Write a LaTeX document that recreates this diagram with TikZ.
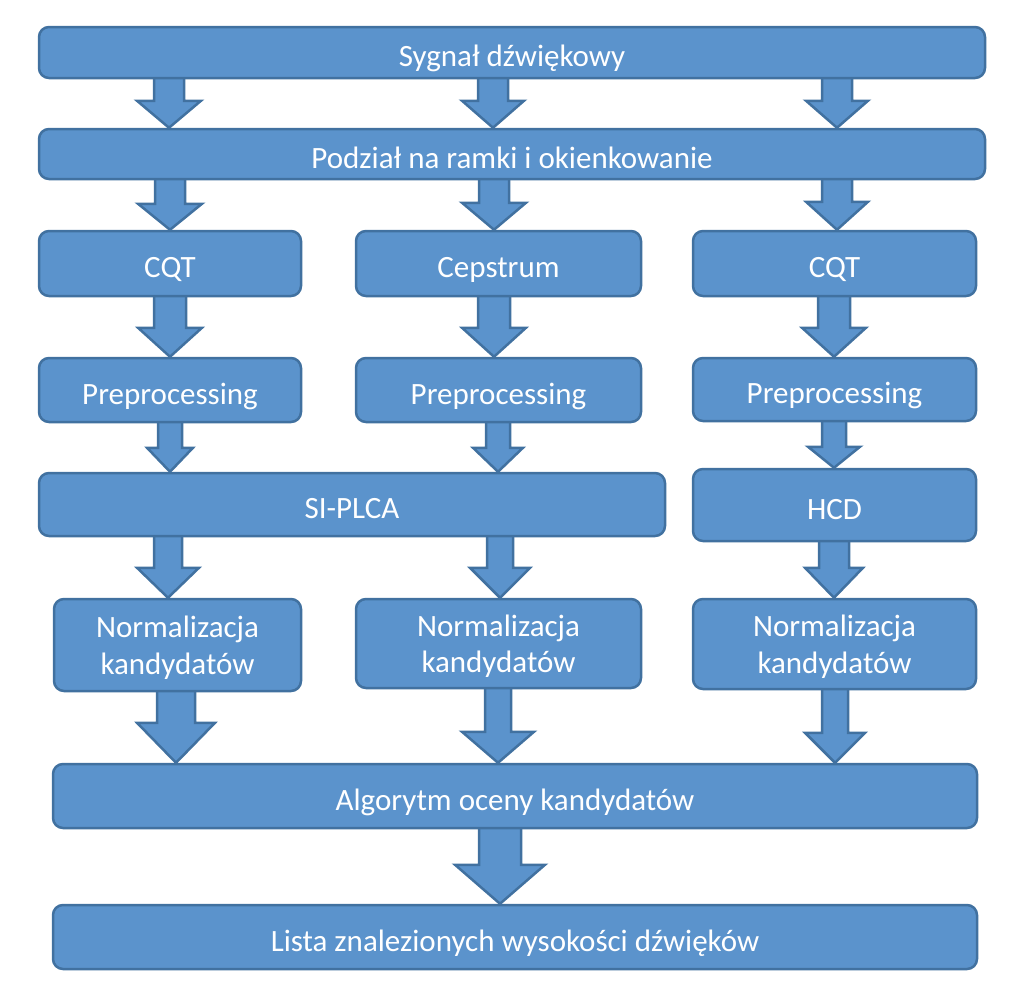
\documentclass[tikz,border=0pt]{standalone}
\usepackage{fontspec}
\setmainfont{Carlito}
\usetikzlibrary{calc,backgrounds}
\definecolor{boxfill}{RGB}{91,147,204}
\definecolor{boxline}{RGB}{65,113,160}
\tikzset{
  box/.style={draw=boxline, fill=boxfill, line width=2.5pt, rounded corners=10pt,
    text=white, font=\fontsize{31}{36.5}\selectfont, align=center, inner sep=0pt,
    text height=28pt, text depth=0pt},
  twoline/.style={text height=58pt, text depth=0pt},
  blockarrow/.style={draw=boxline, fill=boxfill, line width=2.5pt, line join=miter},
}
% #1 x, #2 from node, #3 to node, #4 shaft half width, #5 head half width, #6 head length
\newcommand\barrow[6]{%
  \draw[blockarrow] let \p1=(#2.south), \p2=(#3.north) in
    ({#1pt-#4pt},{\y1+4pt}) -- ({#1pt-#4pt},{\y2+#6pt}) -- ({#1pt-#5pt},{\y2+#6pt})
    -- ({#1pt},{\y2}) -- ({#1pt+#5pt},{\y2+#6pt}) -- ({#1pt+#4pt},{\y2+#6pt})
    -- ({#1pt+#4pt},{\y1+4pt});
}
\begin{document}
\begin{tikzpicture}[x=1pt,y=-1pt]
\useasboundingbox (0,0) rectangle (1024,1001);

\node[box, minimum width=946pt, minimum height=51pt] (b1) at (512,52.5) {Sygnał dźwiękowy};
\node[box, minimum width=946pt, minimum height=50pt] (b2) at (512,154) {Podział na ramki i okienkowanie};

\node[box, minimum width=262pt, minimum height=65pt] (c1) at (170,263.5) {CQT};
\node[box, minimum width=285pt, minimum height=65pt] (c2) at (498.5,263.5) {Cepstrum};
\node[box, minimum width=283pt, minimum height=65pt] (c3) at (834.5,263.5) {CQT};

\node[box, minimum width=262pt, minimum height=64pt] (p1) at (170,390) {Preprocessing};
\node[box, minimum width=285pt, minimum height=64pt] (p2) at (498.5,390) {Preprocessing};
\node[box, minimum width=283pt, minimum height=63pt] (p3) at (834.5,389.5) {Preprocessing};

\node[box, minimum width=626pt, minimum height=63pt] (s) at (352,504.5) {SI-PLCA};
\node[box, minimum width=283pt, minimum height=72pt] (h) at (834.5,505) {HCD};

\node[box, twoline, minimum width=247pt, minimum height=92pt] (n1) at (177.5,645) {Normalizacja\\kandydatów};
\node[box, twoline, minimum width=285pt, minimum height=89pt] (n2) at (498.5,643.5) {Normalizacja\\kandydatów};
\node[box, twoline, minimum width=283pt, minimum height=90pt] (n3) at (834.5,644) {Normalizacja\\kandydatów};

\node[box, minimum width=924pt, minimum height=64pt] (alg) at (515,796) {Algorytm oceny kandydatów};
\node[box, minimum width=924pt, minimum height=64pt] (lista) at (515,937) {Lista znalezionych wysokości dźwięków};

\begin{scope}[on background layer]
\barrow{169}{b1}{b2}{15}{32}{27}
\barrow{493}{b1}{b2}{15}{31}{27}
\barrow{837}{b1}{b2}{15}{31}{27}

\barrow{170}{b2}{c1}{15}{32}{26}
\barrow{494}{b2}{c2}{15}{32}{27}
\barrow{837}{b2}{c3}{15}{31}{28}

\barrow{170}{c1}{p1}{16}{32}{29}
\barrow{494}{c2}{p2}{16}{32}{29}
\barrow{834}{c3}{p3}{16}{32}{29}

\barrow{170}{p1}{s}{12}{23}{24}
\barrow{498}{p2}{s}{12}{25}{24}
\barrow{834}{p3}{h}{12}{26}{21}

\barrow{168}{s}{n1}{14}{31}{30}
\barrow{500}{s}{n2}{13}{30}{30}
\barrow{834}{h}{n3}{15}{29}{30}

\barrow{176}{n1}{alg}{19}{39}{40}
\barrow{498}{n2}{alg}{13}{36}{31}
\barrow{835}{n3}{alg}{13}{30}{30}

\barrow{500}{alg}{lista}{21}{45}{39}
\end{scope}
\end{tikzpicture}
\end{document}
